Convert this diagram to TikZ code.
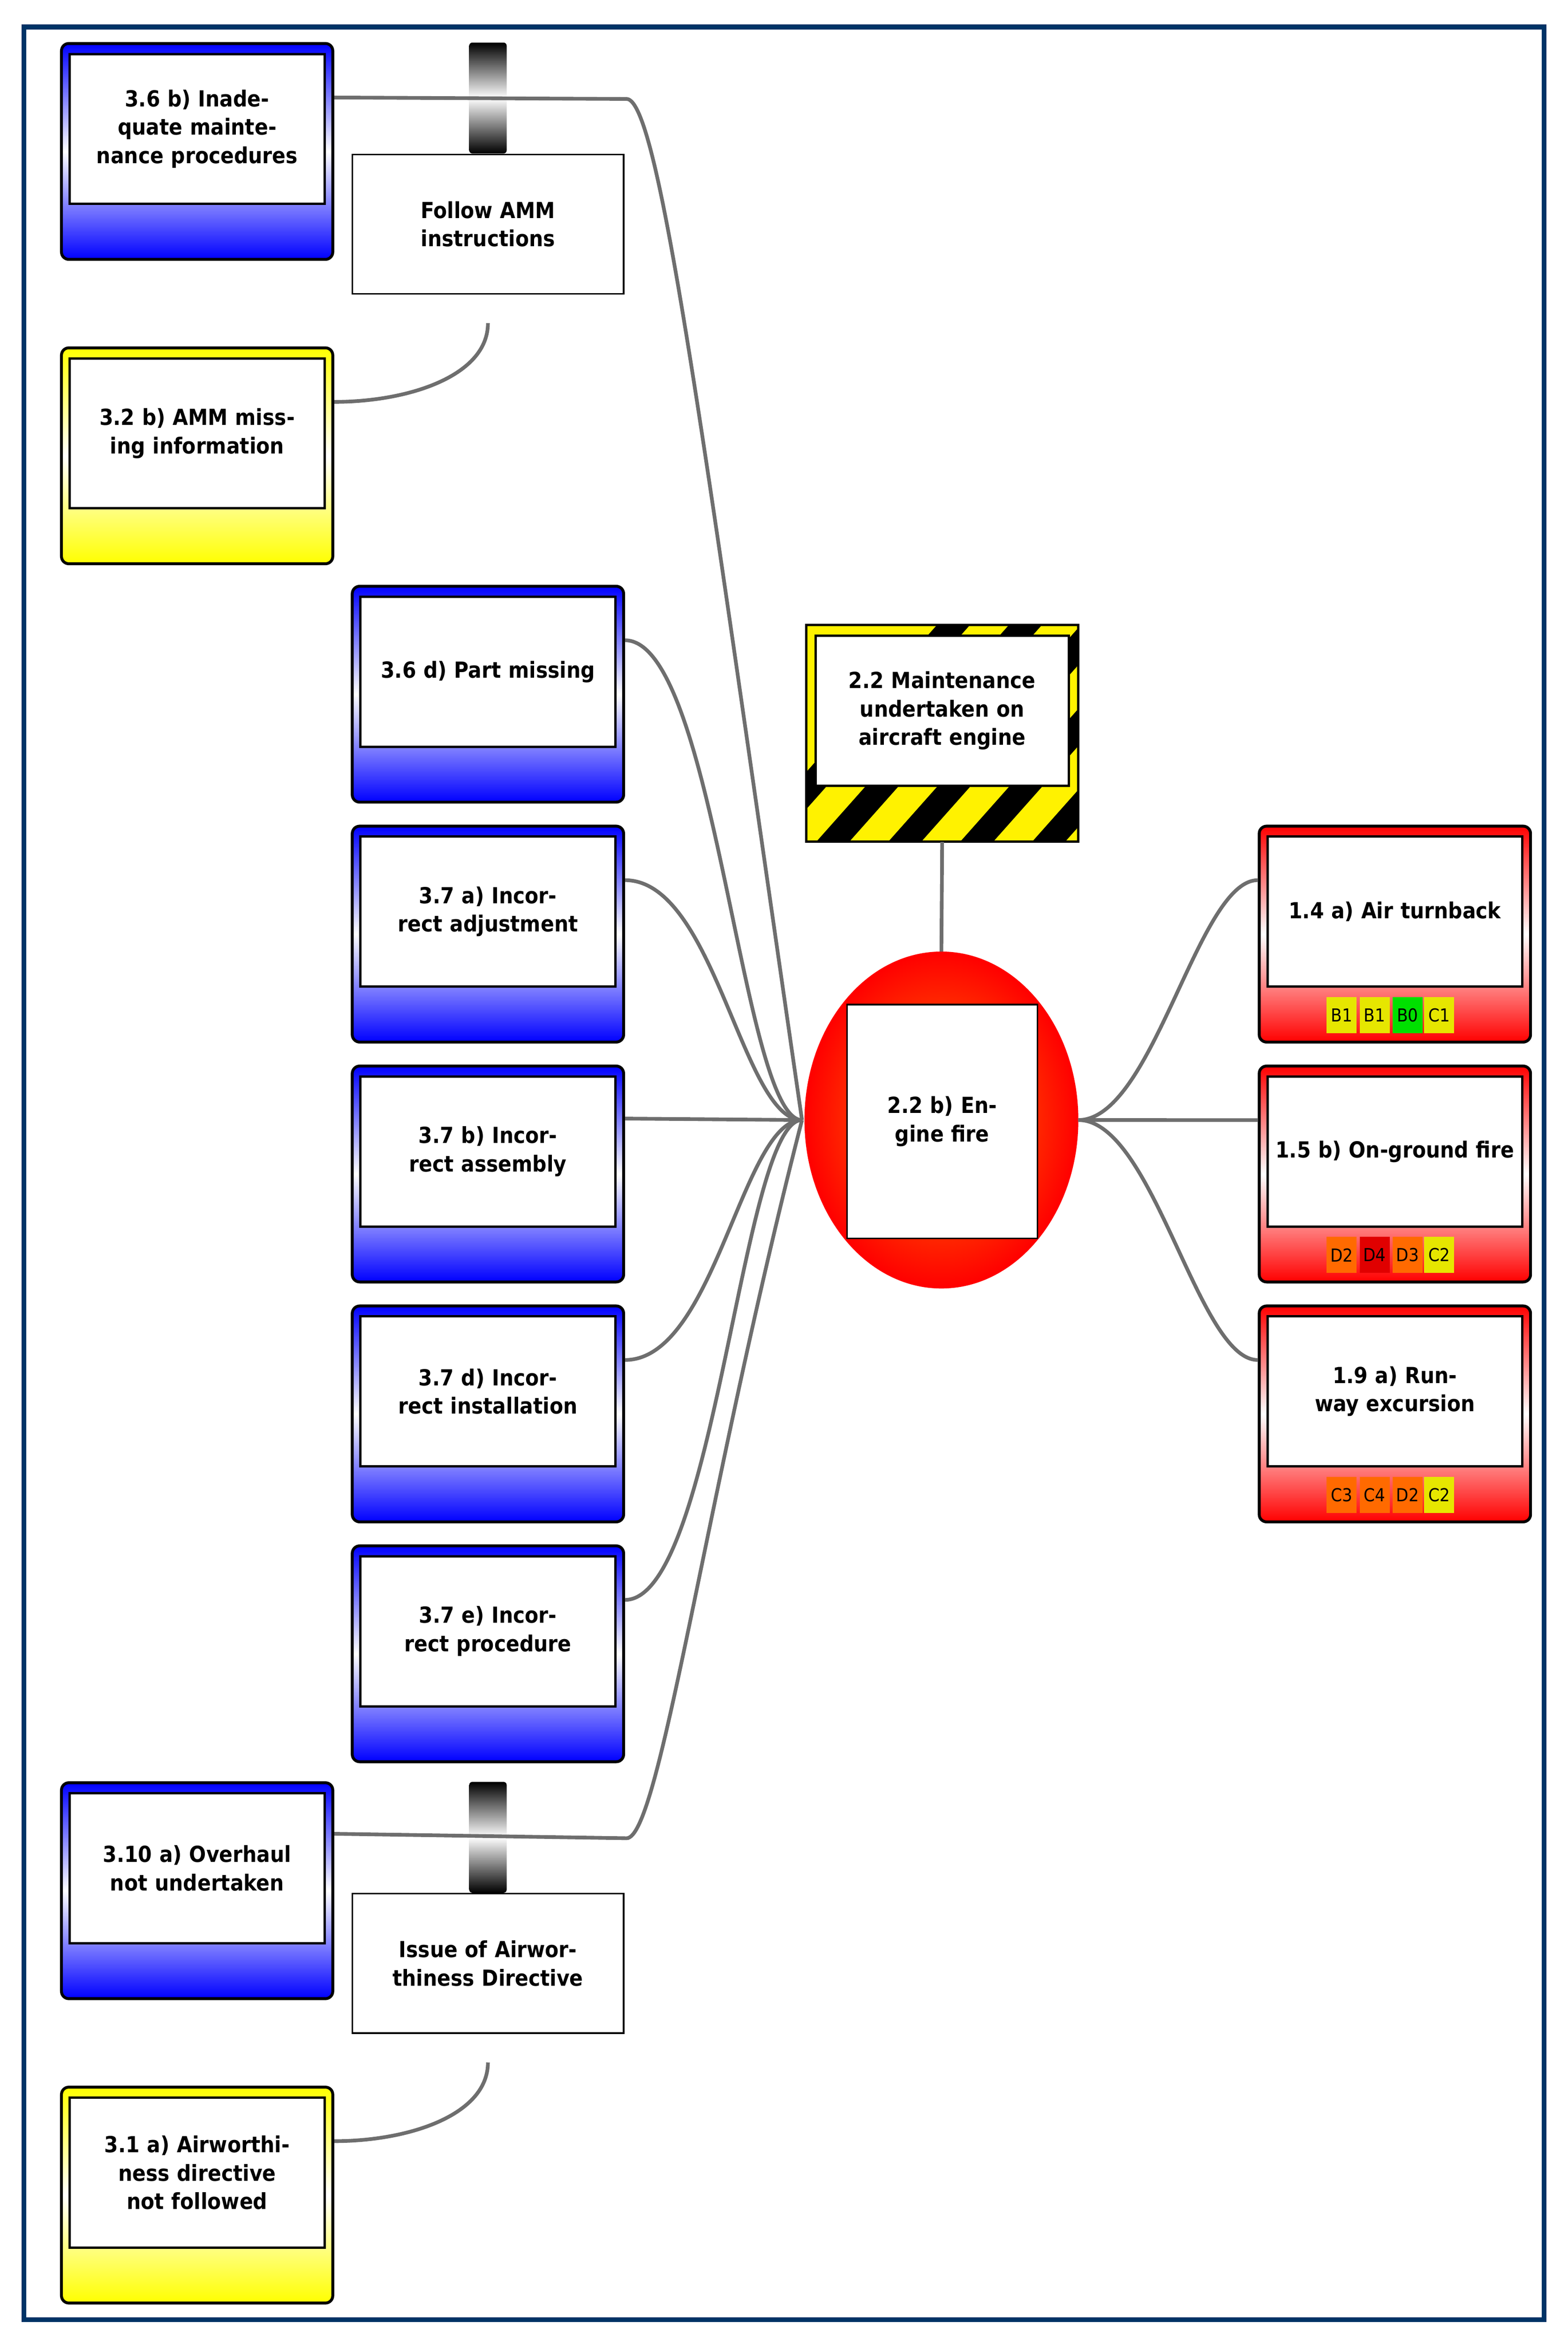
\documentclass[tikz,border=0pt]{standalone}
\usepackage{fontspec}
\setmainfont{DejaVu Sans Condensed}
\usetikzlibrary{shapes.geometric,calc}
\definecolor{frameblue}{HTML}{003366}
\definecolor{wire}{HTML}{6E6E6E}
\definecolor{ryel}{HTML}{E6E600}
\definecolor{rgrn}{HTML}{00E000}
\definecolor{rorg}{HTML}{FF6A00}
\definecolor{rred}{HTML}{E00000}
\begin{document}
\begin{tikzpicture}
		[x=1mm,y=-1mm,
		card/.style ={rectangle, draw=black, line width=5.5pt, rounded corners=14pt, minimum width=181mm, minimum height=144mm},
		blue card/.style ={card, top color=blue, bottom color=blue, middle color=white},
		yellow card/.style ={card, top color=yellow, bottom color=yellow, middle color=white},
		red card/.style ={card, top color=red, bottom color=red, middle color=white},
		inner/.style ={rectangle, draw=black, line width=4.5pt, fill=white, minimum width=170mm, minimum height=100mm, text width=160mm, align=center, font=\bfseries\fontsize{42}{54}\selectfont},
		barrier/.style ={rectangle, draw=black, line width=3pt, fill=white, minimum width=181mm, minimum height=93mm, text width=170mm, align=center, font=\bfseries\fontsize{42}{54}\selectfont},
		bar/.style ={rectangle, rounded corners=6pt, minimum width=25mm, minimum height=74mm, top color=black, bottom color=black, middle color=white},
		badge/.style ={rectangle, minimum width=20mm, minimum height=24mm, inner sep=0pt, font=\fontsize{34}{34}\selectfont},
		line/.style ={draw=wire, line width=7pt},
		]
		\useasboundingbox (0,0) rectangle (1046,1564);
		\draw[frameblue, line width=9pt] (16,18) rectangle (1030,1547);

		% left column
		\node[blue card] (c36b) at (131.5,101) {};
		\node[inner] (t36b) at (131.5,86) {3.6 b) Inadequate maintenance procedures};
		\node[yellow card] (c32b) at (131.5,304) {};
		\node[inner] (t32b) at (131.5,289) {3.2 b) AMM missing information};
		\node[blue card] (c310a) at (131.5,1261) {};
		\node[inner] (t310a) at (131.5,1246) {3.10 a) Overhaul not undertaken};
		\node[yellow card] (c31a) at (131.5,1464) {};
		\node[inner] (t31a) at (131.5,1449) {3.1 a) Airworthiness directive not followed};

		% barriers
		\node[barrier] (amm) at (325.5,149.5) {Follow AMM instructions};
		\node[bar, anchor=south] (amm bar) at (amm.north) {};
		\node[barrier] (ad) at (325.5,1309.5) {Issue of Airworthiness Directive};
		\node[bar, anchor=south] (ad bar) at (ad.north) {};

		% middle column
		\foreach \n/\t/\y in {c36d/{3.6 d) Part missing}/463,
			c37a/{3.7 a) Incorrect adjustment}/623,
			c37b/{3.7 b) Incorrect assembly}/783,
			c37d/{3.7 d) Incorrect installation}/943,
			c37e/{3.7 e) Incorrect procedure}/1103}
		{
			\node[blue card] (\n) at (325.5,\y) {};
			\node[inner] at (325.5,\y-15) {\t};
		}

		% hazard
		\node[rectangle, draw=black, line width=3pt, fill=yellow, minimum width=181mm, minimum height=144mm] (haz) at (628.5,489) {};
		\begin{scope}
			\clip (haz.south west) rectangle (haz.north east);
			\foreach \i in {0,...,9}
				\fill[black] (480+\i*48,580) -- ++(22,0) -- ++(160,-180) -- ++(-22,0) -- cycle;
		\end{scope}
		\draw[black, line width=3pt] (haz.south west) rectangle (haz.north east);
		\node[inner, minimum width=169mm] (hazt) at (628.5,474) {2.2 Maintenance undertaken on aircraft engine};

		% top event
		\node[ellipse, draw=red, line width=2pt, inner color=orange, outer color=red, minimum width=182mm, minimum height=224mm] (top) at (628,747) {};
		\node[inner, line width=3pt, minimum width=127mm, minimum height=156mm, text width=115mm] (topt) at (628.5,748) {2.2 b) Engine fire};
		\coordinate (hub) at (535,747);

		% consequences
		\foreach \n/\t/\y/\ba/\ca/\bb/\cb/\bc/\cc/\bd/\cd in {
			k14a/{1.4 a) Air turnback}/623/B1/ryel/B1/ryel/B0/rgrn/C1/ryel,
			k15b/{1.5 b) On-ground fire}/783/D2/rorg/D4/rred/D3/rorg/C2/ryel,
			k19a/{1.9 a) Runway excursion}/943/C3/rorg/C4/rorg/D2/rorg/C2/ryel}
		{
			\node[red card] (\n) at (930.5,\y) {};
			\node[inner] at (930.5,\y-15) {\t};
			\node[badge, fill=\ca] at (895,\y+54) {\ba};
			\node[badge, fill=\cb] at (917,\y+54) {\bb};
			\node[badge, fill=\cc] at (939,\y+54) {\bc};
			\node[badge, fill=\cd] at (960,\y+54) {\bd};
		}

		% connectors
		\draw[line] ([yshift=-37mm]c36b.north east) -- (418,66) .. controls (440,66) and (470,300) .. (hub);
		\draw[line] ([yshift=-35mm]c310a.north east) -- (418,1226) .. controls (440,1226) and (470,1000) .. (hub);
		\foreach \n in {c36d,c37a,c37d,c37e}
			\draw[line] ([yshift=-37mm]\n.north east) .. controls +(60,0) and ($(hub)+(-40,0)$) .. (hub);
		\draw[line] ([yshift=-36mm]c37b.north east) -- (hub);
		\draw[line] ([yshift=-19mm]amm.south) .. controls +(0,35) and +(50,0) .. ([yshift=-37mm]c32b.north east);
		\draw[line] ([yshift=-19mm]ad.south) .. controls +(0,35) and +(50,0) .. ([yshift=-37mm]c31a.north east);
		\draw[line] (haz.south) -- (top.north);
		\foreach \n in {k14a,k15b,k19a}
			\draw[line] (top.east) .. controls +(50,0) and +(-40,0) .. ([yshift=-37mm]\n.north west);
	\end{tikzpicture}
\end{document}
